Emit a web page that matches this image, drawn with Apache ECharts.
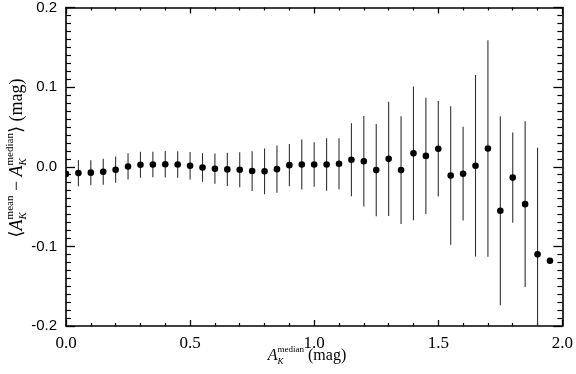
<!DOCTYPE html>
<html>
<head>
<meta charset="utf-8">
<script src="https://cdn.jsdelivr.net/npm/echarts@6/dist/echarts.min.js"></script>
<style>
html,body{margin:0;padding:0;background:#fff;}
#chart{width:576px;height:374px;}
</style>
</head>
<body>
<div id="chart"></div>
<script>
// bin centres, A_K^median (mag)
var binX = [0.00, 0.05, 0.10, 0.15, 0.20, 0.25, 0.30, 0.35, 0.40, 0.45,
	0.50, 0.55, 0.60, 0.65, 0.70, 0.75, 0.80, 0.85, 0.90, 0.95,
	1.00, 1.05, 1.10, 1.15, 1.20, 1.25, 1.30, 1.35, 1.40, 1.45,
	1.50, 1.55, 1.60, 1.65, 1.70, 1.75, 1.80, 1.85, 1.90, 1.95];
// <A_K^mean - A_K^median> (mag)
var meanDiff = [-0.0090, -0.0080, -0.0074, -0.0062, -0.0037, 0.0004, 0.0025, 0.0028, 0.0032, 0.0028,
	0.0012, -0.0009, -0.0025, -0.0033, -0.0037, -0.0054, -0.0058, -0.0030, 0.0020, 0.0028,
	0.0028, 0.0028, 0.0037, 0.0087, 0.0069, -0.0042, 0.0099, -0.0042, 0.0168, 0.0136,
	0.0226, -0.0111, -0.0087, 0.0012, 0.0230, -0.0553, -0.0136, -0.0470, -0.1100, -0.1180];
// half length of the error bars
var errDiff = [0, 0.0166, 0.0157, 0.0163, 0.0165, 0.0165, 0.0163, 0.0160, 0.0167, 0.0167,
	0.0173, 0.0180, 0.0190, 0.0210, 0.0220, 0.0250, 0.0287, 0.0297, 0.0266, 0.0313,
	0.0280, 0.0330, 0.0320, 0.0458, 0.0567, 0.0580, 0.0718, 0.0677, 0.0840, 0.0730,
	0.0600, 0.0870, 0.0588, 0.1140, 0.1360, 0.1186, 0.0567, 0.1040, 0.1340, 0];

var xTicks = [0.0, 0.5, 1.0, 1.5, 2.0];
var yTicks = [-0.2, -0.1, 0.0, 0.1, 0.2];

var SERIF = '"Liberation Serif", "DejaVu Serif", serif';
var SANS = '"Liberation Sans", Arial, sans-serif';

var measureCtx = document.createElement('canvas').getContext('2d');

function fontOf(p) {
	return (p.italic ? 'italic ' : '') + p.size + 'px ' + SERIF;
}

function textWidth(p) {
	measureCtx.font = fontOf(p);
	return measureCtx.measureText(p.t).width;
}

/**
 * 拼出带上下标的标题 (baseline at y=0)
 */
function mathText(parts) {
	var children = [];
	var x = 0;
	function put(p, x0) {
		children.push({
			type : 'text',
			x : x0,
			y : (p.dy || 0) - 0.32 * p.size,
			style : {
				text : p.t,
				font : fontOf(p),
				fill : '#000',
				verticalAlign : 'middle'
			}
		});
		return textWidth(p);
	}
	for (var i = 0; i < parts.length; i++) {
		var p = parts[i];
		if (p.sup) {
			var w1 = put(p.sup, x);
			var w2 = put(p.sub, x);
			x += Math.max(w1, w2);
		} else {
			x += put(p, x);
		}
	}
	return {children : children, width : x};
}

var xTitle = mathText([
	{t : 'A', size : 16, italic : true},
	{sup : {t : 'median', size : 9, dy : -8}, sub : {t : 'K', size : 9, italic : true, dy : 4}},
	{t : ' (mag)', size : 16}
]);

var yTitle = mathText([
	{t : '\u27E8', size : 18},
	{t : 'A', size : 18, italic : true},
	{sup : {t : 'mean', size : 11, dy : -9}, sub : {t : 'K', size : 11, italic : true, dy : 4}},
	{t : ' \u2212 ', size : 18},
	{t : 'A', size : 18, italic : true},
	{sup : {t : 'median', size : 11, dy : -9}, sub : {t : 'K', size : 11, italic : true, dy : 4}},
	{t : '\u27E9', size : 18},
	{t : ' (mag)', size : 18}
]);

function tickLabel(v) {
	if (Math.abs(v) < 1e-9) return '0.0';
	return v.toFixed(1);
}

function makeXAxis(pos, showLabel) {
	return {
		type : 'value',
		position : pos,
		min : xTicks[0],
		max : xTicks[xTicks.length - 1],
		interval : xTicks[1] - xTicks[0],
		axisLine : {onZero : false, lineStyle : {color : '#000', width : 1.6}},
		axisTick : {inside : true, length : 6, lineStyle : {color : '#000', width : 1.3}},
		minorTick : {show : true, splitNumber : 5, length : 3, lineStyle : {color : '#000', width : 1.2}},
		splitLine : {show : false},
		axisLabel : {
			show : showLabel,
			margin : 9,
			fontFamily : SERIF,
			fontSize : 17,
			color : '#000',
			formatter : tickLabel
		}
	};
}

function makeYAxis(pos, showLabel) {
	return {
		type : 'value',
		position : pos,
		min : yTicks[0],
		max : yTicks[yTicks.length - 1],
		interval : 0.1,
		axisLine : {onZero : false, lineStyle : {color : '#000', width : 1.6}},
		axisTick : {inside : true, length : 9, lineStyle : {color : '#000', width : 1.3}},
		minorTick : {show : true, splitNumber : 10, length : 5, lineStyle : {color : '#000', width : 1.2}},
		splitLine : {show : false},
		axisLabel : {
			show : showLabel,
			margin : 9,
			fontFamily : SANS,
			fontSize : 15,
			color : '#000',
			formatter : tickLabel
		}
	};
}

function gridClip(params) {
	var cs = params.coordSys;
	return {type : 'rect', shape : {x : cs.x, y : cs.y, width : cs.width, height : cs.height}};
}

function renderErrBar(params, api) {
	var x = api.value(0);
	var lo = Math.max(api.value(1), yTicks[0]);
	var hi = Math.min(api.value(2), yTicks[yTicks.length - 1]);
	if (hi <= lo) return;
	var p1 = api.coord([x, lo]);
	var p2 = api.coord([x, hi]);
	return {
		type : 'line',
		shape : {x1 : p1[0], y1 : p1[1], x2 : p2[0], y2 : p2[1]},
		style : {stroke : '#333', lineWidth : 1.1}
	};
}

// 圆点，用绘图区裁剪（x=0 的点只露出一半）
function renderDot(params, api) {
	var p = api.coord([api.value(0), api.value(1)]);
	return {
		type : 'circle',
		shape : {cx : p[0], cy : p[1], r : 3.3},
		style : {fill : '#000'},
		clipPath : gridClip(params)
	};
}

var points = [];
var bars = [];
for (var i = 0; i < binX.length; i++) {
	points.push([binX[i], meanDiff[i]]);
	bars.push([binX[i], meanDiff[i] - errDiff[i], meanDiff[i] + errDiff[i]]);
}

var myChart = echarts.init(document.getElementById('chart'), null, {renderer : 'canvas'});
myChart.setOption({
	animation : false,
	backgroundColor : '#fff',
	grid : {left : 66, right : 12, top : 3, bottom : 48},
	xAxis : [makeXAxis('bottom', true), makeXAxis('top', false)],
	yAxis : [makeYAxis('left', true), makeYAxis('right', false)],
	series : [{
		type : 'custom',
		renderItem : renderErrBar,
		encode : {x : 0, y : [1, 2]},
		data : bars,
		z : 2
	}, {
		type : 'custom',
		renderItem : renderDot,
		encode : {x : 0, y : 1},
		data : points,
		z : 3
	}],
	graphic : [{
		type : 'group',
		x : 307 - xTitle.width / 2,
		y : 361,
		children : xTitle.children
	}, {
		type : 'group',
		x : 23,
		y : 158 + yTitle.width / 2,
		rotation : Math.PI / 2,
		children : yTitle.children
	}]
});
</script>
</body>
</html>
